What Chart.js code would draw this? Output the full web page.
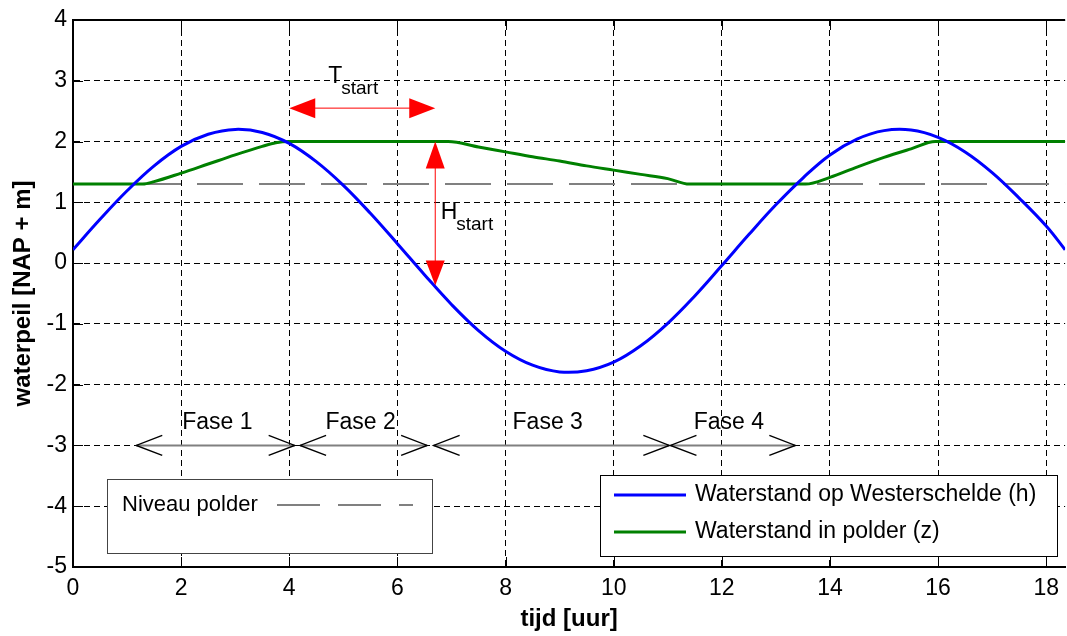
<!DOCTYPE html>
<html>
<head>
<meta charset="utf-8">
<script src="https://cdn.jsdelivr.net/npm/chart.js@4/dist/chart.umd.min.js"></script>
<style>
  html, body { margin: 0; padding: 0; background: #fff; }
  #wrap { width: 1067px; height: 636px; position: relative; }
</style>
</head>
<body>
<div id="wrap"><canvas id="chart"></canvas></div>
<script>
// waterstand op Westerschelde (h)
const tHours = [0, 0.5, 1, 1.5, 2, 2.5, 3, 3.5, 4, 4.5, 5, 5.5, 6, 6.5, 7, 7.5, 8, 8.5, 9, 9.5,
  10, 10.5, 11, 11.5, 12, 12.5, 13, 13.5, 14, 14.5, 15, 15.5, 16, 16.5, 17, 17.5, 18, 18.35];
const hValues = [0.22, 0.72, 1.19, 1.60, 1.92, 2.12, 2.20, 2.15, 1.97, 1.67, 1.28, 0.82, 0.32, -0.19, -0.68, -1.11, -1.45, -1.68, -1.79, -1.77,
  -1.63, -1.36, -0.99, -0.54, -0.04, 0.47, 0.96, 1.40, 1.78, 2.04, 2.18, 2.19, 2.07, 1.83, 1.49, 1.07, 0.61, 0.22];

// waterstand in polder (z)
const zTimes = [0, 1.29, 1.5, 2, 2.5, 3, 3.5, 3.75, 4, 6.94, 7.5, 8, 8.5, 9, 9.5, 10, 10.5, 11, 11.4,
  13.55, 14, 14.5, 15, 15.5, 15.95, 18.35];
const zValues = [1.3, 1.3, 1.34, 1.48, 1.63, 1.78, 1.92, 1.98, 2.0, 2.0, 1.91, 1.83, 1.75, 1.68, 1.60, 1.53, 1.46, 1.39, 1.3,
  1.3, 1.41, 1.58, 1.74, 1.88, 2.0, 2.0];

const polderLevel = 1.3;
const xTicks = [0, 2, 4, 6, 8, 10, 12, 14, 16, 18];
const yTicks = [-5, -4, -3, -2, -1, 0, 1, 2, 3, 4];

// fases (uur)
const phaseNames = ['Fase 1', 'Fase 2', 'Fase 3', 'Fase 4'];
const phaseStart = [1.17, 4.2, 6.67, 11.05];
const phaseEnd = [4.1, 6.55, 11.03, 13.36];
const phaseLabelX = [2.67, 5.32, 8.78, 12.13];
const phaseLevel = -3;
const phaseLabelLevel = -2.73;

// T_start en H_start
const tStartFrom = 4.0, tStartTo = 6.7, tStartLevel = 2.55;
const hStartTime = 6.7, hStartTop = 2.0, hStartBottom = -0.37;

const FONT = '"Liberation Sans", Arial, sans-serif';
Chart.defaults.font.family = FONT;
Chart.defaults.color = '#000';

function arrowHead(ctx, tipX, tipY, dx, dy, len, half, filled) {
  // dx,dy unit vector pointing towards the tip
  const bx = tipX - dx * len, by = tipY - dy * len;
  const px = -dy * half, py = dx * half;
  ctx.beginPath();
  if (filled) {
    ctx.moveTo(tipX, tipY);
    ctx.lineTo(bx + px, by + py);
    ctx.lineTo(bx - px, by - py);
    ctx.closePath();
    ctx.fill();
  } else {
    ctx.moveTo(bx + px, by + py);
    ctx.lineTo(tipX, tipY);
    ctx.lineTo(bx - px, by - py);
    ctx.stroke();
  }
}

const extras = {
  id: 'extras',
  afterDraw(chart) {
    const ctx = chart.ctx;
    const xs = chart.scales.x, ys = chart.scales.y;
    const a = chart.chartArea;
    ctx.save();

    // top frame + inward ticks
    ctx.strokeStyle = '#000';
    ctx.lineWidth = 2;
    ctx.beginPath();
    ctx.moveTo(a.left, a.top);
    ctx.lineTo(a.right, a.top);
    ctx.stroke();
    ctx.lineWidth = 1;
    xTicks.forEach(v => {
      const px = Math.round(xs.getPixelForValue(v)) + 0.5;
      ctx.beginPath();
      ctx.moveTo(px, a.bottom); ctx.lineTo(px, a.bottom - 10);
      ctx.moveTo(px, a.top); ctx.lineTo(px, a.top + 10);
      ctx.stroke();
    });
    yTicks.forEach(v => {
      const py = Math.round(ys.getPixelForValue(v)) + 0.5;
      ctx.beginPath();
      ctx.moveTo(a.left, py); ctx.lineTo(a.left + 10, py);
      ctx.stroke();
    });

    // fase arrows
    const yp = ys.getPixelForValue(phaseLevel);
    phaseNames.forEach((name, i) => {
      const x1 = xs.getPixelForValue(phaseStart[i]);
      const x2 = xs.getPixelForValue(phaseEnd[i]);
      ctx.strokeStyle = '#808080';
      ctx.lineWidth = 2;
      ctx.beginPath();
      ctx.moveTo(x1, yp); ctx.lineTo(x2, yp);
      ctx.stroke();
      ctx.strokeStyle = '#000';
      ctx.lineWidth = 1.4;
      arrowHead(ctx, x1, yp, -1, 0, 26, 10, false);
      arrowHead(ctx, x2, yp, 1, 0, 26, 10, false);
      ctx.fillStyle = '#000';
      ctx.font = '23px ' + FONT;
      ctx.textAlign = 'center';
      ctx.textBaseline = 'alphabetic';
      ctx.fillText(name, xs.getPixelForValue(phaseLabelX[i]), ys.getPixelForValue(phaseLabelLevel));
    });

    // T_start
    ctx.strokeStyle = '#ff0000';
    ctx.fillStyle = '#ff0000';
    ctx.lineWidth = 1;
    const tx1 = xs.getPixelForValue(tStartFrom), tx2 = xs.getPixelForValue(tStartTo);
    const ty = ys.getPixelForValue(tStartLevel);
    ctx.beginPath();
    ctx.moveTo(tx1 + 20, ty); ctx.lineTo(tx2 - 20, ty);
    ctx.stroke();
    arrowHead(ctx, tx1, ty, -1, 0, 26, 10, true);
    arrowHead(ctx, tx2, ty, 1, 0, 26, 10, true);

    // H_start
    const hx = xs.getPixelForValue(hStartTime);
    const hy1 = ys.getPixelForValue(hStartTop), hy2 = ys.getPixelForValue(hStartBottom);
    ctx.beginPath();
    ctx.moveTo(hx, hy1 + 20); ctx.lineTo(hx, hy2 - 20);
    ctx.stroke();
    arrowHead(ctx, hx, hy1, 0, -1, 27, 9.5, true);
    arrowHead(ctx, hx, hy2, 0, 1, 25, 9.5, true);

    // labels T_start, H_start
    ctx.fillStyle = '#000';
    ctx.textAlign = 'left';
    ctx.textBaseline = 'alphabetic';
    const sub = (main, x, y) => {
      ctx.font = '23px ' + FONT;
      ctx.fillText(main, x, y);
      const w = ctx.measureText(main).width;
      ctx.font = '19px ' + FONT;
      ctx.fillText('start', x + w - 1, y + 11);
    };
    sub('T', xs.getPixelForValue(4.72), ys.getPixelForValue(2.96));
    sub('H', xs.getPixelForValue(6.8), ys.getPixelForValue(0.72));

    // legend: Niveau polder
    ctx.fillStyle = '#fff';
    ctx.strokeStyle = '#444';
    ctx.lineWidth = 1;
    ctx.fillRect(107, 479, 325, 74);
    ctx.strokeRect(107.5, 479.5, 325, 74);
    ctx.fillStyle = '#000';
    ctx.font = '22px ' + FONT;
    ctx.textBaseline = 'middle';
    ctx.fillText('Niveau polder', 122, 505);
    ctx.strokeStyle = '#808080';
    ctx.lineWidth = 2;
    ctx.setLineDash([43, 18]);
    ctx.beginPath();
    ctx.moveTo(277, 505); ctx.lineTo(413, 505);
    ctx.stroke();
    ctx.setLineDash([]);

    // legend: series
    ctx.fillStyle = '#fff';
    ctx.strokeStyle = '#000';
    ctx.lineWidth = 1;
    ctx.fillRect(600, 475, 457, 81);
    ctx.strokeRect(600.5, 475.5, 457, 81);
    ctx.font = '23px ' + FONT;
    const items = [
      ['Waterstand op Westerschelde (h)', '#0000ff', 495],
      ['Waterstand in polder (z)', '#008000', 532]
    ];
    items.forEach(([label, color, y]) => {
      ctx.strokeStyle = color;
      ctx.lineWidth = 3;
      ctx.beginPath();
      ctx.moveTo(614, y); ctx.lineTo(686, y);
      ctx.stroke();
      ctx.fillStyle = '#000';
      ctx.fillText(label, 695, y);
    });
    ctx.restore();
  }
};

new Chart(document.getElementById('chart'), {
  type: 'line',
  data: {
    datasets: [
      {
        label: 'Waterstand op Westerschelde (h)',
        data: tHours.map((t, i) => ({ x: t, y: hValues[i] })),
        borderColor: '#0000ff',
        borderWidth: 3,
        tension: 0.4,
        pointRadius: 0
      },
      {
        label: 'Waterstand in polder (z)',
        data: zTimes.map((t, i) => ({ x: t, y: zValues[i] })),
        borderColor: '#008000',
        borderWidth: 3,
        cubicInterpolationMode: 'monotone',
        pointRadius: 0
      },
      {
        label: 'Niveau polder',
        data: [{ x: 0, y: polderLevel }, { x: 18.35, y: polderLevel }],
        borderColor: '#808080',
        borderWidth: 2,
        borderDash: [46, 16],
        pointRadius: 0
      }
    ]
  },
  options: {
    responsive: true,
    maintainAspectRatio: false,
    animation: false,
    events: [],
    layout: { padding: { top: 20, right: 0, left: 0, bottom: 0 } },
    plugins: { legend: { display: false }, tooltip: { enabled: false } },
    scales: {
      x: {
        type: 'linear',
        min: 0,
        max: 18.35,
        afterBuildTicks: s => { s.ticks = xTicks.map(v => ({ value: v })); },
        afterFit: s => { s.height = 69; },
        ticks: { font: { size: 23 }, padding: 8, maxRotation: 0, autoSkip: false },
        grid: { color: '#000', lineWidth: 1, drawTicks: false },
        border: { display: true, color: '#000', width: 2, dash: [6, 4] },
        title: { display: true, text: 'tijd [uur]', font: { size: 24, weight: 'bold' }, padding: { top: 0, bottom: 2 } }
      },
      y: {
        type: 'linear',
        min: -5,
        max: 4,
        afterBuildTicks: s => { s.ticks = yTicks.map(v => ({ value: v })); },
        afterFit: s => { s.width = 73; },
        ticks: { font: { size: 23 }, padding: 6, autoSkip: false },
        grid: { color: '#000', lineWidth: 1, drawTicks: false },
        border: { display: true, color: '#000', width: 2, dash: [6, 4] },
        title: { display: true, text: 'waterpeil [NAP + m]', font: { size: 24, weight: 'bold' }, padding: { top: 9, bottom: 0 } }
      }
    }
  },
  plugins: [extras]
});
</script>
</body>
</html>
